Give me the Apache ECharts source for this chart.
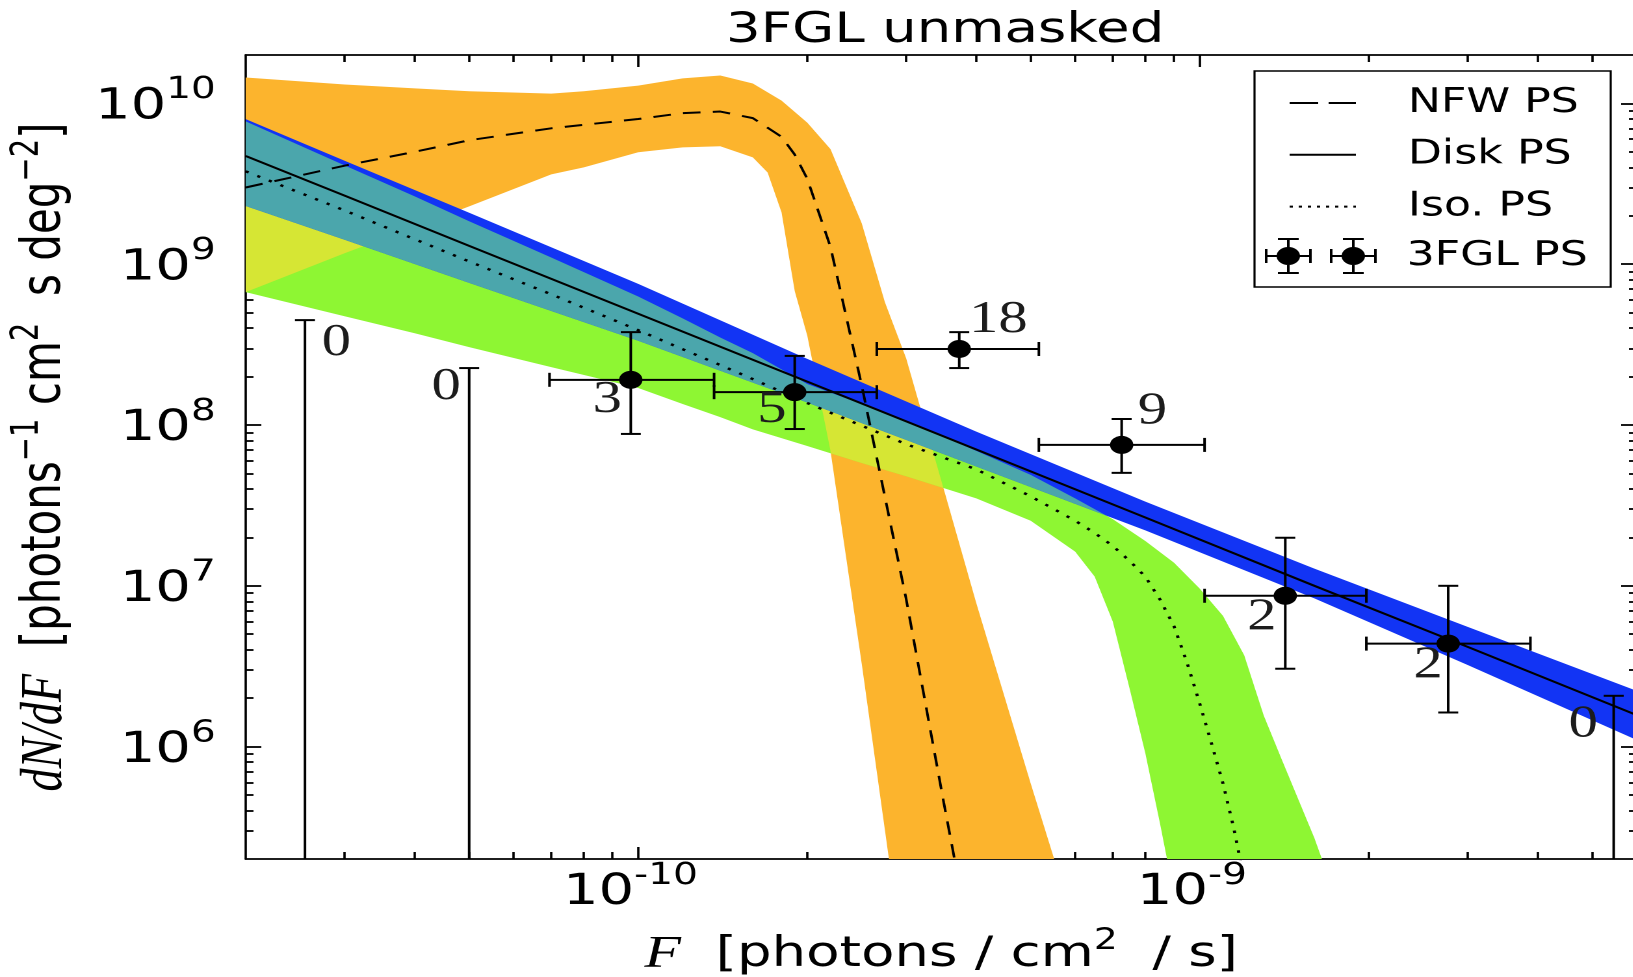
<!DOCTYPE html>
<html lang="en">
<head>
<meta charset="utf-8">
<title>3FGL unmasked</title>
<script src="https://cdn.jsdelivr.net/npm/echarts@6.0.0/dist/echarts.min.js"></script>
<style>
  html, body { margin: 0; padding: 0; background: #fff; overflow: hidden; }
  /* the original figure is stretched sideways: draw it narrow, then widen */
  #chart { width: 1256px; height: 977px; transform: scaleX(1.3); transform-origin: 0 0; }
</style>
</head>
<body>
<div id="chart"></div>
<script>
// axis ranges and ticks
const xMin = 2e-11, xMax = 6e-9;
const yMin = 2e5, yMax = 2e10;
const xMajor = [1e-10, 1e-9];
const yMajor = [1e6, 1e7, 1e8, 1e9, 1e10];

// NFW PS: median (dashed) and 68% band
const nfwLineF = [2e-11, 3e-11, 4e-11, 5e-11, 7e-11, 1e-10, 1.2e-10, 1.4e-10, 1.6e-10, 1.8e-10, 1.9e-10, 2e-10, 2.2e-10, 2.5e-10, 3e-10, 3.5e-10, 4e-10];
const nfwLine = [3.0e9, 4.1e9, 5.0e9, 5.9e9, 7.0e9, 8.0e9, 8.7e9, 8.9e9, 8.1e9, 6.2e9, 4.8e9, 3.4e9, 1.28e9, 1.77e8, 8.3e6, 4.5e5, 3.9e4];
const nfwHiF = [2e-11, 3e-11, 4e-11, 5e-11, 7e-11, 8e-11, 1e-10, 1.2e-10, 1.4e-10, 1.6e-10, 1.8e-10, 2e-10, 2.2e-10, 2.5e-10, 2.75e-10, 3e-10, 3.5e-10, 4e-10, 5e-10, 6e-10];
const nfwHi = [1.45e10, 1.31e10, 1.24e10, 1.19e10, 1.15e10, 1.19e10, 1.29e10, 1.43e10, 1.49e10, 1.33e10, 1.04e10, 7.6e9, 5.2e9, 1.8e9, 5.8e8, 2.6e8, 4.0e7, 7.8e6, 5.9e5, 7.6e4];
const nfwLoF = [2e-11, 3e-11, 4e-11, 5e-11, 7e-11, 8e-11, 1e-10, 1.2e-10, 1.4e-10, 1.6e-10, 1.7e-10, 1.8e-10, 1.9e-10, 2e-10, 2.2e-10, 2.5e-10, 2.9e-10];
const nfwLo = [6.7e8, 1.17e9, 1.70e9, 2.29e9, 3.62e9, 4.0e9, 4.97e9, 5.33e9, 5.41e9, 4.62e9, 3.72e9, 2.1e9, 6.8e8, 3.6e8, 6.9e7, 3.3e6, 8.0e4];

// Disk PS: median (solid) and band
const diskF = [2e-11, 3e-11, 5e-11, 1e-10, 2e-10, 4e-10, 8e-10, 1.6e-9, 3e-9, 6e-9];
const diskLine = [4.71e9, 2.67e9, 1.30e9, 4.92e8, 1.86e8, 7.04e7, 2.66e7, 1.0e7, 4.17e6, 1.57e6];
const diskHi = [7.98e9, 4.40e9, 2.09e9, 7.55e8, 2.58e8, 9.1e7, 3.34e7, 1.28e7, 5.55e6, 2.22e6];
const diskLo = [2.30e9, 1.42e9, 7.66e8, 3.34e8, 1.38e8, 5.52e7, 2.21e7, 8.35e6, 3.22e6, 1.10e6];

// Iso. PS: median (dotted) and band
const isoLineF = [2e-11, 3e-11, 4e-11, 5e-11, 7e-11, 1e-10, 1.2e-10, 1.4e-10, 1.6e-10, 2e-10, 2.5e-10, 3e-10, 4e-10, 5e-10, 6e-10, 6.5e-10, 7e-10, 7.5e-10, 8e-10, 8.5e-10, 9e-10, 9.5e-10, 1e-9, 1.05e-9, 1.1e-9, 1.15e-9, 1.2e-9];
const isoLine = [3.78e9, 2.16e9, 1.43e9, 1.04e9, 6.5e8, 3.89e8, 2.96e8, 2.36e8, 1.93e8, 1.37e8, 9.9e7, 7.6e7, 5.3e7, 3.6e7, 2.54e7, 2.13e7, 1.77e7, 1.43e7, 1.14e7, 8.2e6, 5.6e6, 3.3e6, 1.85e6, 1.04e6, 5.9e5, 3.1e5, 1.5e5];
const isoHiF = [2e-11, 3e-11, 4e-11, 5e-11, 7e-11, 1e-10, 1.2e-10, 1.4e-10, 1.6e-10, 2e-10, 2.5e-10, 3e-10, 4e-10, 5e-10, 6e-10, 7e-10, 8e-10, 9e-10, 1e-9, 1.1e-9, 1.2e-9, 1.3e-9, 1.4e-9, 1.6e-9, 1.7e-9];
const isoHi = [7.73e9, 4.12e9, 2.64e9, 1.85e9, 1.10e9, 6.3e8, 4.6e8, 3.5e8, 2.8e8, 1.8e8, 1.35e8, 1.06e8, 6.9e7, 4.9e7, 3.5e7, 2.6e7, 1.9e7, 1.39e7, 9.6e6, 6.5e6, 3.7e6, 1.56e6, 8.3e5, 2.7e5, 1.5e5];
const isoLoF = [2e-11, 3e-11, 4e-11, 5e-11, 7e-11, 1e-10, 1.2e-10, 1.4e-10, 1.6e-10, 2e-10, 2.5e-10, 3e-10, 4e-10, 5e-10, 6e-10, 6.5e-10, 7e-10, 7.5e-10, 8e-10, 8.5e-10, 9e-10];
const isoLo = [6.7e8, 4.75e8, 3.72e8, 3.05e8, 2.29e8, 1.70e8, 1.35e8, 1.12e8, 9.4e7, 7.4e7, 5.8e7, 4.8e7, 3.5e7, 2.54e7, 1.63e7, 1.14e7, 6.0e6, 2.3e6, 9.1e5, 3.3e5, 1.2e5];

// 3FGL PS: binned points with errors
const psF = [9.7e-11, 1.90e-10, 3.73e-10, 7.26e-10, 1.42e-9, 2.77e-9];
const psFlo = [6.95e-11, 1.365e-10, 2.66e-10, 5.17e-10, 1.02e-9, 1.98e-9];
const psFhi = [1.365e-10, 2.66e-10, 5.17e-10, 1.02e-9, 1.98e-9, 3.88e-9];
const psN = [1.91e8, 1.60e8, 2.97e8, 7.52e7, 8.67e6, 4.37e6];
const psNlo = [8.8e7, 9.44e7, 2.26e8, 5.04e7, 3.05e6, 1.63e6];
const psNhi = [3.78e8, 2.69e8, 3.78e8, 1.09e8, 1.99e7, 1.0e7];

// empty bins: upper limits
const ulF = [2.55e-11, 5.0e-11, 5.46e-9];
const ulN = [4.49e8, 2.26e8, 2.07e6];

// source counts written next to each bin
const countF = [2.90e-11, 4.55e-11, 8.81e-11, 1.73e-10, 4.38e-10, 8.24e-10, 1.29e-9, 2.55e-9, 4.82e-9];
const countN = [3.23e8, 1.72e8, 1.43e8, 1.24e8, 4.49e8, 1.21e8, 6.32e6, 3.18e6, 1.37e6];
const countText = ['0', '0', '3', '5', '18', '9', '2', '2', '0'];

const FONT = "'DejaVu Sans', sans-serif";
const SERIF = "'Liberation Serif', 'DejaVu Serif', serif";
const ORANGE = '#fcb42d', GREEN = '#8ef633', YELLOW = '#d6e634', BLUE = '#1234f4', TEAL = '#4ba6ac';
const CAP_H = 7.7, CAP_V = 7;

function pairs(xs, ys) { return xs.map((x, i) => [x, ys[i]]); }

function minorTicks(lo, hi) {
  const out = [];
  for (let e = Math.floor(Math.log10(lo)); e <= Math.ceil(Math.log10(hi)); e++) {
    for (let m = 2; m <= 9; m++) {
      const v = m * Math.pow(10, e);
      if (v > lo * 1.001 && v < hi * 0.999) out.push(v);
    }
  }
  return out;
}
const xMinor = minorTicks(xMin, xMax);
const yMinor = minorTicks(yMin, yMax);

const black = { color: '#000', width: 1.8 };
// "10" with a raised exponent; the padding drops the digits onto the tick
function powRich(supRightPad) {
  return {
    b: { fontFamily: FONT, fontSize: 43, lineHeight: 56, padding: [8, 0, 0, 0], color: '#000' },
    s: { fontFamily: FONT, fontSize: 30, lineHeight: 44, verticalAlign: 'top', padding: [0, supRightPad, 0, 0], color: '#000' }
  };
}
const nameRich = {
  i: { fontFamily: SERIF, fontStyle: 'italic', fontSize: 46, lineHeight: 56, color: '#000' },
  n: { fontFamily: FONT, fontSize: 42, lineHeight: 56, color: '#000' },
  s: { fontFamily: FONT, fontSize: 29, lineHeight: 28, verticalAlign: 'top', color: '#000' }
};
function powLabel(v) {
  return '{b|10}{s|' + Math.round(Math.log10(v)) + '}';
}

function makeAxis(pos, min, max, ticks, len, showLine) {
  return {
    type: 'log', logBase: 10, min: min, max: max, position: pos,
    axisLine: { show: showLine, onZero: false, lineStyle: black },
    axisTick: { show: true, inside: true, length: len, customValues: ticks, lineStyle: black },
    axisLabel: { show: false },
    splitLine: { show: false },
    minorTick: { show: false },
    axisPointer: { show: false },
    nameMoveOverlap: false,
    silent: true
  };
}

const xBottom = makeAxis('bottom', xMin, xMax, xMajor, 12, true);
xBottom.axisLabel = { show: true, customValues: xMajor, margin: 2, formatter: powLabel, rich: powRich(12) };
xBottom.name = '{i|F}{n|  [photons / cm}{s|2}{n|  / s]}';
xBottom.nameLocation = 'middle';
xBottom.nameGap = 68;
xBottom.nameTextStyle = { rich: nameRich };

const yLeft = makeAxis('left', yMin, yMax, yMajor, 12, true);
yLeft.axisLabel = { show: true, customValues: yMajor, margin: 23, formatter: powLabel, rich: powRich(0) };
yLeft.name = '{i|dN/dF}{n|  [photons}{s|\u22121}{n| cm}{s|2}{n|  s deg}{s|\u22122}{n|]}';
yLeft.nameLocation = 'middle';
yLeft.nameRotate = 90;
yLeft.nameGap = 126;
yLeft.nameTextStyle = { rich: nameRich };

// legend icon for the data points: two error-bar markers side by side
function rectPath(x1, y1, x2, y2) { return 'M' + x1 + ' ' + y1 + 'H' + x2 + 'V' + y2 + 'H' + x1 + 'Z'; }
function markerPath(cx) {
  return rectPath(cx - 18, 17, cx + 18, 19) + rectPath(cx - 1, 0, cx + 1, 36) +
    rectPath(cx - 18, 11, cx - 16, 25) + rectPath(cx + 16, 11, cx + 18, 25) +
    rectPath(cx - 8, 0, cx + 8, 2) + rectPath(cx - 8, 34, cx + 8, 36) +
    'M' + (cx - 9) + ' 18A9 9 0 1 1 ' + (cx + 9) + ' 18A9 9 0 1 1 ' + (cx - 9) + ' 18Z';
}
const psIcon = 'path://' + markerPath(18) + markerPath(68);

function bandPoints(api, hiF, hi, loF, lo) {
  const pts = hiF.map((f, i) => api.coord([f, hi[i]]));
  for (let i = loF.length - 1; i >= 0; i--) pts.push(api.coord([loF[i], lo[i]]));
  return pts;
}

const chart = echarts.init(document.getElementById('chart'), null, { devicePixelRatio: 2 });
const option = {
  animation: false,
  backgroundColor: '#fff',
  textStyle: { fontFamily: FONT },
  title: {
    text: '3FGL unmasked', left: 727, top: 10, padding: 0, textAlign: 'center',
    textStyle: { fontFamily: FONT, fontSize: 42, fontWeight: 'normal', color: '#000' }
  },
  grid: { left: 189, right: -3, top: 55, bottom: 118, containLabel: false, outerBoundsMode: 'none' },
  xAxis: [
    xBottom,
    makeAxis('bottom', xMin, xMax, xMinor, 7, false),
    makeAxis('top', xMin, xMax, xMajor, 12, true),
    makeAxis('top', xMin, xMax, xMinor, 7, false)
  ],
  yAxis: [
    yLeft,
    makeAxis('left', yMin, yMax, yMinor, 6, false),
    makeAxis('right', yMin, yMax, yMajor, 12, true),
    makeAxis('right', yMin, yMax, yMinor, 6, false)
  ],
  graphic: [{
    type: 'rect', z: 10, silent: true,
    shape: { x: 965, y: 71, width: 274, height: 216 },
    style: { fill: '#fff', stroke: '#000', lineWidth: 1.6 }
  }],
  legend: [{
    orient: 'vertical', left: 991, top: 86, padding: 0, z: 20,
    itemWidth: 51, itemHeight: 30, itemGap: 17.8, selectedMode: false,
    itemStyle: { opacity: 0 },
    textStyle: { fontFamily: FONT, fontSize: 34, color: '#000', lineHeight: 30, padding: [0, 0, 0, 35] },
    data: [
      { name: 'NFW PS', lineStyle: { type: [22, 8] } },
      'Disk PS',
      { name: 'Iso. PS', lineStyle: { type: [2.5, 4.5] } }
    ]
  }, {
    orient: 'vertical', left: 973, top: 238, padding: 0, z: 20,
    itemWidth: 86, itemHeight: 36, selectedMode: false,
    textStyle: { fontFamily: FONT, fontSize: 34, color: '#000', lineHeight: 36, padding: [0, 0, 0, 18] },
    data: [{ name: '3FGL PS', icon: psIcon }]
  }],
  series: [
    {
      // the three posterior bands, with their overlaps tinted
      type: 'custom', silent: true, z: 1,
      data: [[xMin, yMin]],
      renderItem: function (params, api) {
        const cs = params.coordSys;
        const nfw = bandPoints(api, nfwHiF, nfwHi, nfwLoF, nfwLo);
        const iso = bandPoints(api, isoHiF, isoHi, isoLoF, isoLo);
        const disk = bandPoints(api, diskF, diskHi, diskF, diskLo);
        const inIso = function () { return { type: 'polygon', shape: { points: iso } }; };
        return {
          type: 'group',
          clipPath: { type: 'rect', shape: { x: cs.x, y: cs.y, width: cs.width, height: cs.height } },
          children: [
            { type: 'polygon', shape: { points: nfw }, style: { fill: ORANGE } },
            { type: 'polygon', shape: { points: iso }, style: { fill: GREEN } },
            { type: 'polygon', shape: { points: nfw }, style: { fill: YELLOW }, clipPath: inIso() },
            { type: 'polygon', shape: { points: disk }, style: { fill: BLUE } },
            { type: 'polygon', shape: { points: disk }, style: { fill: TEAL }, clipPath: inIso() }
          ]
        };
      }
    },
    {
      name: 'NFW PS', type: 'line', z: 3, symbol: 'none', silent: true,
      data: pairs(nfwLineF, nfwLine),
      lineStyle: { color: '#000', width: 2, type: [13.5, 9.5] }, itemStyle: { color: '#000', opacity: 0 }
    },
    {
      name: 'Disk PS', type: 'line', z: 3, symbol: 'none', silent: true,
      data: pairs(diskF, diskLine),
      lineStyle: { color: '#000', width: 2 }, itemStyle: { color: '#000', opacity: 0 }
    },
    {
      name: 'Iso. PS', type: 'line', z: 3, symbol: 'none', silent: true,
      data: pairs(isoLineF, isoLine),
      lineStyle: { color: '#000', width: 2.4, type: [2.5, 7.5] }, itemStyle: { color: '#000', opacity: 0 }
    },
    {
      name: '3FGL PS', type: 'custom', z: 4, silent: true,
      itemStyle: { color: '#000' },
      data: psF.map((f, i) => [f, psN[i], psFlo[i], psFhi[i], psNlo[i], psNhi[i]]),
      encode: { x: 0, y: 1 },
      renderItem: function (params, api) {
        const c = api.coord([api.value(0), api.value(1)]);
        const l = api.coord([api.value(2), api.value(1)])[0];
        const r = api.coord([api.value(3), api.value(1)])[0];
        const b = api.coord([api.value(0), api.value(4)])[1];
        const t = api.coord([api.value(0), api.value(5)])[1];
        const st = { stroke: '#000', lineWidth: 2 };
        const seg = (x1, y1, x2, y2) => ({ type: 'line', shape: { x1: x1, y1: y1, x2: x2, y2: y2 }, style: st });
        return {
          type: 'group',
          children: [
            seg(l, c[1], r, c[1]),
            seg(c[0], t, c[0], b),
            seg(l, c[1] - CAP_V, l, c[1] + CAP_V),
            seg(r, c[1] - CAP_V, r, c[1] + CAP_V),
            seg(c[0] - CAP_H, t, c[0] + CAP_H, t),
            seg(c[0] - CAP_H, b, c[0] + CAP_H, b),
            { type: 'circle', shape: { cx: c[0], cy: c[1], r: 9 }, style: { fill: '#000' } }
          ]
        };
      }
    },
    {
      // upper limits for the empty bins
      type: 'custom', z: 4, silent: true,
      data: pairs(ulF, ulN),
      renderItem: function (params, api) {
        const p = api.coord([api.value(0), api.value(1)]);
        const cs = params.coordSys;
        const st = { stroke: '#000', lineWidth: 2 };
        return {
          type: 'group',
          children: [
            { type: 'line', shape: { x1: p[0], y1: p[1], x2: p[0], y2: cs.y + cs.height }, style: st },
            { type: 'line', shape: { x1: p[0] - CAP_H, y1: p[1], x2: p[0] + CAP_H, y2: p[1] }, style: st }
          ]
        };
      }
    },
    {
      // number of sources in each bin
      type: 'custom', z: 5, silent: true,
      data: pairs(countF, countN),
      renderItem: function (params, api) {
        const p = api.coord([api.value(0), api.value(1)]);
        return {
          type: 'text', x: p[0], y: p[1],
          style: {
            text: countText[params.dataIndex], fill: '#1c1c1c',
            font: '45px ' + SERIF, align: 'center', verticalAlign: 'middle'
          }
        };
      }
    }
  ]
};
chart.setOption(option);
</script>
</body>
</html>
